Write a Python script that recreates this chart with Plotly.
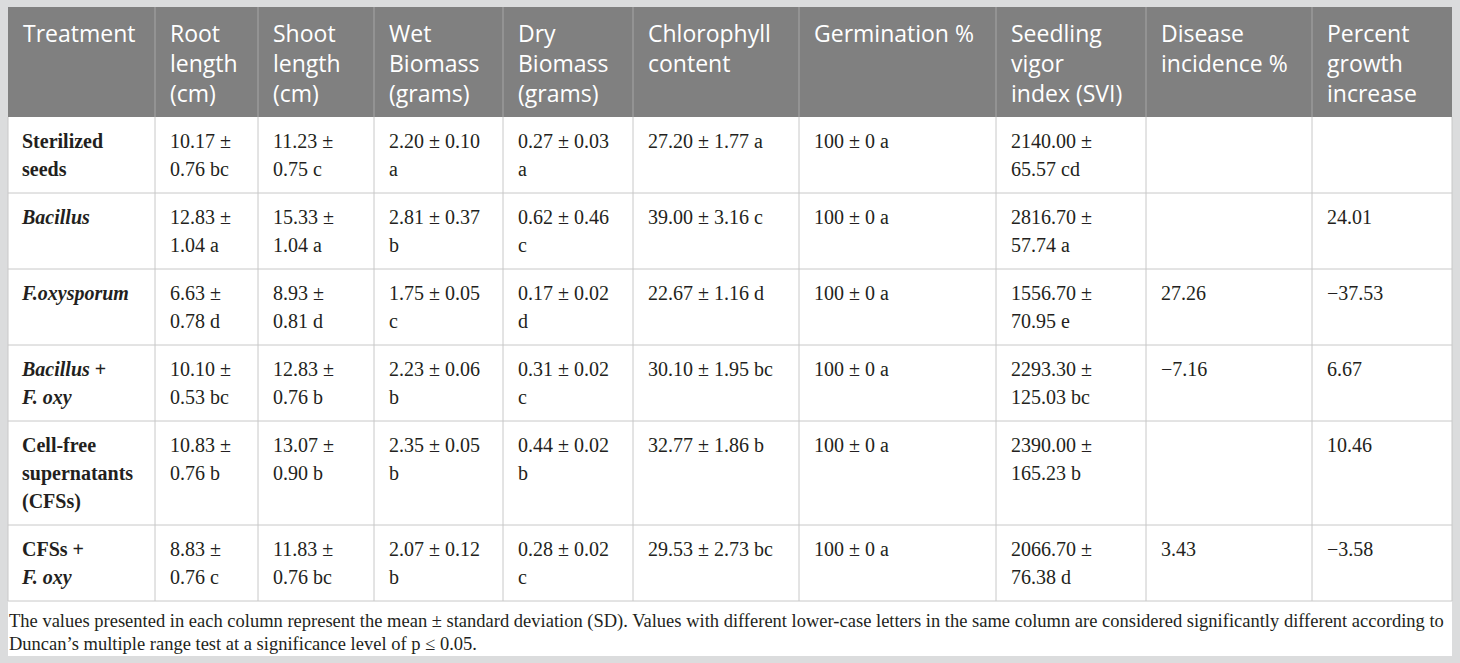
import re
import plotly.graph_objects as go

W, H = 1460, 663

treatments = ["<b>Sterilized<br>seeds</b>", "<b><i>Bacillus</i></b>", "<b><i>F.oxysporum</i></b>",
              "<b><i>Bacillus</i> +<br><i>F. oxy</i></b>", "<b>Cell-free<br>supernatants<br>(CFSs)</b>",
              "<b>CFSs +<br><i>F. oxy</i></b>"]

root_mean = ["10.17", "12.83", "6.63", "10.10", "10.83", "8.83"]
root_sd = ["0.76", "1.04", "0.78", "0.53", "0.76", "0.76"]
root_grp = ["bc", "a", "d", "bc", "b", "c"]

shoot_mean = ["11.23", "15.33", "8.93", "12.83", "13.07", "11.83"]
shoot_sd = ["0.75", "1.04", "0.81", "0.76", "0.90", "0.76"]
shoot_grp = ["c", "a", "d", "b", "b", "bc"]

wet_mean = ["2.20", "2.81", "1.75", "2.23", "2.35", "2.07"]
wet_sd = ["0.10", "0.37", "0.05", "0.06", "0.05", "0.12"]
wet_grp = ["a", "b", "c", "b", "b", "b"]

dry_mean = ["0.27", "0.62", "0.17", "0.31", "0.44", "0.28"]
dry_sd = ["0.03", "0.46", "0.02", "0.02", "0.02", "0.02"]
dry_grp = ["a", "c", "d", "c", "b", "c"]

chl_mean = ["27.20", "39.00", "22.67", "30.10", "32.77", "29.53"]
chl_sd = ["1.77", "3.16", "1.16", "1.95", "1.86", "2.73"]
chl_grp = ["a", "c", "d", "bc", "b", "bc"]

germ_mean = ["100"] * 6
germ_sd = ["0"] * 6
germ_grp = ["a"] * 6

svi_mean = ["2140.00", "2816.70", "1556.70", "2293.30", "2390.00", "2066.70"]
svi_sd = ["65.57", "57.74", "70.95", "125.03", "165.23", "76.38"]
svi_grp = ["cd", "a", "e", "bc", "b", "d"]

disease = ["", "", "27.26", "\u22127.16", "", "3.43"]
growth = ["", "24.01", "\u221237.53", "6.67", "10.46", "\u22123.58"]

headers = ["Treatment", "Root<br>length<br>(cm)", "Shoot<br>length<br>(cm)", "Wet<br>Biomass<br>(grams)",
           "Dry<br>Biomass<br>(grams)", "Chlorophyll<br>content", "Germination %",
           "Seedling<br>vigor<br>index (SVI)", "Disease<br>incidence %", "Percent<br>growth<br>increase"]

footnote = ("The values presented in each column represent the mean \u00b1 standard deviation (SD). "
            "Values with different lower-case letters in the same column are considered significantly "
            "different according to<br>Duncan\u2019s multiple range test at a significance level of p \u2264 0.05.")

# ---- layout constants ----
col_widths = [147, 103, 116, 129, 130, 166, 197, 150, 166, 140]
X0, Y0 = 8, 7            # top-left corner of the table
HEAD_LINE, BODY_LINE, NOTE_LINE = 30, 28, 23
PAD_X = 15
HEAD_FS, BODY_FS, NOTE_FS = 23, 20, 18.5
GRID = "#c8c8c8"


def fmt(means, sds, grps, brk):
    out = []
    for m, s, g in zip(means, sds, grps):
        if brk == "pm":
            out.append(f"{m} \u00b1<br>{s} {g}")
        elif brk == "grp":
            out.append(f"{m} \u00b1 {s}<br>{g}")
        else:
            out.append(f"{m} \u00b1 {s} {g}")
    return out


def split_lines(html):
    # break on <br> and keep <b>/<i> balanced on every line
    if not html:
        return []
    out, open_tags = [], []
    for part in html.split("<br>"):
        prefix = "".join(f"<{t}>" for t in open_tags)
        for m in re.finditer(r"<(/?)([bi])>", part):
            if m.group(1):
                open_tags.remove(m.group(2))
            else:
                open_tags.append(m.group(2))
        suffix = "".join(f"</{t}>" for t in reversed(open_tags))
        out.append(prefix + part + suffix)
    return out


body_cols = [
    treatments,
    fmt(root_mean, root_sd, root_grp, "pm"),
    fmt(shoot_mean, shoot_sd, shoot_grp, "pm"),
    fmt(wet_mean, wet_sd, wet_grp, "grp"),
    fmt(dry_mean, dry_sd, dry_grp, "grp"),
    fmt(chl_mean, chl_sd, chl_grp, None),
    fmt(germ_mean, germ_sd, germ_grp, None),
    fmt(svi_mean, svi_sd, svi_grp, "pm"),
    disease,
    growth,
]
head_cells = [split_lines(h) for h in headers]
body_cells = [[split_lines(t) for t in col] for col in body_cols]
n_rows = len(treatments)

edges = [X0]
for w in col_widths:
    edges.append(edges[-1] + w)

head_h = 20 + HEAD_LINE * max(len(c) for c in head_cells)
row_tops = [Y0 + head_h]
for r in range(n_rows):
    n = max(len(col[r]) for col in body_cells)
    row_tops.append(row_tops[-1] + 20 + BODY_LINE * n)

# ---- text positions ----
hx, hy, ht = [], [], []
for j, lines in enumerate(head_cells):
    for i, line in enumerate(lines):
        hx.append(edges[j] + PAD_X)
        hy.append(Y0 + 29 + HEAD_LINE * i)
        ht.append(line)

bx, by, bt = [], [], []
for j, col in enumerate(body_cells):
    for r, lines in enumerate(col):
        for i, line in enumerate(lines):
            bx.append(edges[j] + PAD_X - (1 if j == 0 else 0))
            by.append(row_tops[r] + 26.3 + BODY_LINE * i)
            bt.append(line)

note_lines = split_lines(footnote)
nx = [X0 + 1] * len(note_lines)
ny = [row_tops[-1] + 21 + NOTE_LINE * i for i in range(len(note_lines))]

fig = go.Figure()
fig.add_trace(go.Scatter(x=hx, y=hy, text=ht, mode="text", textposition="middle right",
                         textfont=dict(family="Open Sans", size=HEAD_FS, color="white"),
                         hoverinfo="skip", showlegend=False, cliponaxis=False))
fig.add_trace(go.Scatter(x=bx, y=by, text=bt, mode="text", textposition="middle right",
                         textfont=dict(family="Liberation Serif", size=BODY_FS, color="#231f20"),
                         hoverinfo="skip", showlegend=False, cliponaxis=False))
fig.add_trace(go.Scatter(x=nx, y=ny, text=note_lines, mode="text", textposition="middle right",
                         textfont=dict(family="Liberation Serif", size=NOTE_FS, color="#231f20"),
                         hoverinfo="skip", showlegend=False, cliponaxis=False))

# ---- panel, header band and grid ----
shapes = [
    dict(type="rect", x0=X0, x1=edges[-1], y0=Y0, y1=row_tops[-1] + 55,
         fillcolor="white", line_width=0, layer="below"),
    dict(type="rect", x0=X0, x1=edges[-1], y0=Y0, y1=Y0 + head_h,
         fillcolor="#808080", line_width=0, layer="below"),
]
for k, x in enumerate(edges):
    if 0 < k < len(edges) - 1:
        shapes.append(dict(type="line", x0=x, x1=x, y0=Y0, y1=Y0 + head_h,
                           line=dict(color="#a6a6a6", width=1), layer="below"))
    shapes.append(dict(type="line", x0=x, x1=x, y0=Y0 + head_h, y1=row_tops[-1],
                       line=dict(color=GRID, width=1), layer="below"))
for y in row_tops[1:]:
    shapes.append(dict(type="line", x0=X0, x1=edges[-1], y0=y, y1=y,
                       line=dict(color=GRID, width=1), layer="below"))

fig.update_layout(
    width=W, height=H, margin=dict(l=0, r=0, t=0, b=0),
    paper_bgcolor="#dbdcdd", plot_bgcolor="#dbdcdd",
    shapes=shapes,
    xaxis=dict(range=[0, W], visible=False, fixedrange=True),
    yaxis=dict(range=[H, 0], visible=False, fixedrange=True),
)

fig.write_html("out.html", config={"displayModeBar": False},
               post_script="document.body.style.margin='0';")
